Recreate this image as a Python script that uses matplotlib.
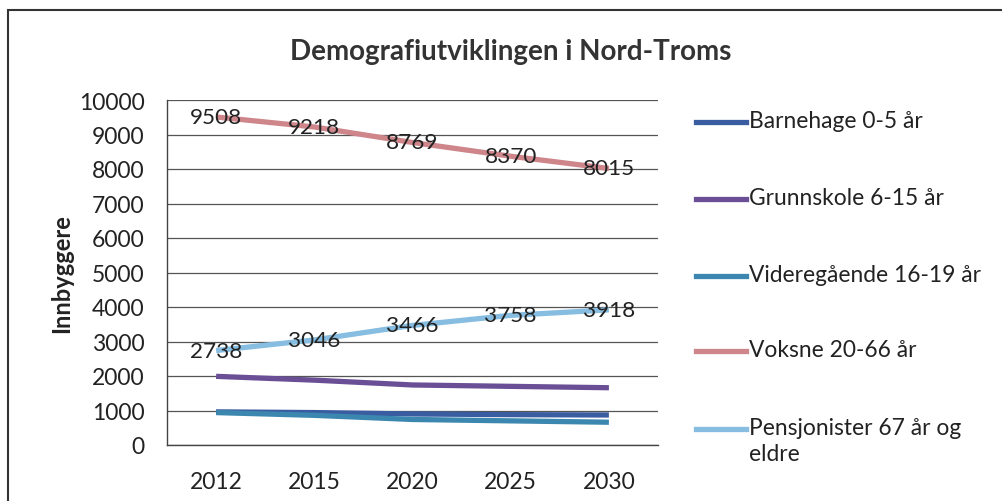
import matplotlib
matplotlib.use("Agg")
import matplotlib.pyplot as plt
from matplotlib.lines import Line2D
from matplotlib.patches import Rectangle

plt.rcParams['font.family'] = ['Lato', 'DejaVu Sans']

years = ["2012", "2015", "2020", "2025", "2030"]
barnehage = [960, 940, 900, 880, 870]
grunnskole = [1990, 1880, 1740, 1700, 1660]
videregaende = [940, 860, 740, 700, 660]
voksne = [9508, 9218, 8769, 8370, 8015]
pensjonister = [2738, 3046, 3466, 3758, 3918]

series_names = ["Barnehage 0-5 år", "Grunnskole 6-15 år", "Videregående 16-19 år",
                "Voksne 20-66 år", "Pensjonister 67 år og\neldre"]
series_values = [barnehage, grunnskole, videregaende, voksne, pensjonister]
series_colors = ["#3a5ca0", "#6a4f96", "#3b87b0", "#cf868b", "#86bde0"]
labelled = [False, False, False, True, True]

W, H = 1003, 502
fig = plt.figure(figsize=(W / 100, H / 100), dpi=100)
ax = fig.add_axes([167 / W, 1 - 446 / H, (658 - 167) / W, (446 - 101) / H])

x = list(range(len(years)))
for name, vals, col in zip(series_names, series_values, series_colors):
    ax.plot(x, vals, color=col, lw=3.8, solid_capstyle='butt', zorder=3)

for vals, lab in zip(series_values, labelled):
    if lab:
        for xi, v in zip(x, vals):
            ax.text(xi, v, str(v), ha='center', va='center', fontsize=16.2,
                    color='#222222', zorder=5)

ax.set_xlim(-0.5, len(years) - 0.5)
ax.set_ylim(0, 10000)
ax.set_yticks(range(0, 10001, 1000))
ax.set_yticklabels([str(v) for v in range(0, 10001, 1000)], fontsize=16.5, color='#222222')
ax.set_xticks(x)
ax.set_xticklabels(years, fontsize=16.5, color='#222222')
ax.tick_params(axis='x', length=0, pad=19)
ax.tick_params(axis='y', length=0, pad=16)
ax.grid(axis='y', color='#555555', lw=0.9)
ax.set_axisbelow(True)
for s in ['top', 'right']:
    ax.spines[s].set_visible(False)
for s in ['left', 'bottom']:
    ax.spines[s].set_color('#444444')
    ax.spines[s].set_linewidth(1.0)

ax.set_ylabel("Innbyggere", fontsize=17, fontweight='bold', color='#222222', labelpad=4)

fig.text(511 / W, 1 - 52 / H, "Demografiutviklingen i Nord-Troms", ha='center', va='center',
         fontsize=20, fontweight='bold', color='#333333')

# legend (manual)
leg_y = [123, 200, 277, 352, 430]
for name, col, yy in zip(series_names, series_colors, leg_y):
    fig.add_artist(Line2D([696 / W, 746 / W], [1 - yy / H, 1 - yy / H], color=col, lw=3.8,
                          transform=fig.transFigure))
    fig.text(749 / W, 1 - (yy - 12) / H, name, ha='left', va='top', fontsize=16.4,
             color='#222222', linespacing=1.3)

# outer border
fig.add_artist(Rectangle((8 / W, -0.05), 1.1, 1 - 11 / H + 0.05, transform=fig.transFigure,
                         fill=False, edgecolor='#333333', lw=1.5))

fig.savefig("out.png", dpi=100)
